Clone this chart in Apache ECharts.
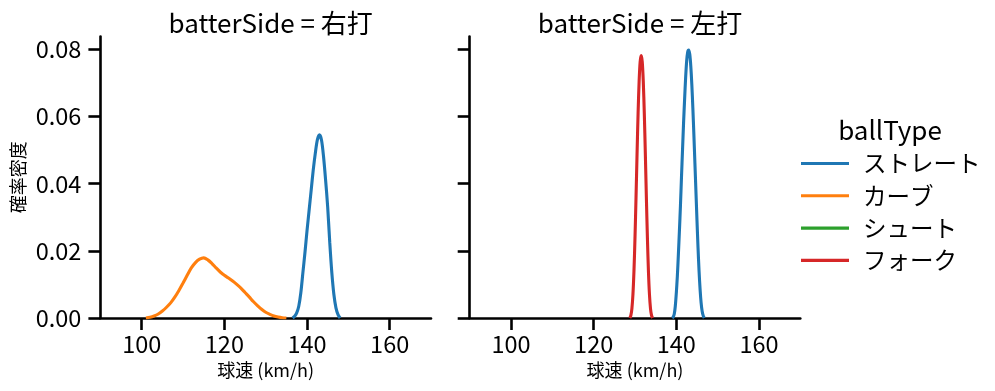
<!DOCTYPE html>
<html>
<head>
<meta charset="utf-8">
<script src="https://cdn.jsdelivr.net/npm/echarts@6/dist/echarts.min.js"></script>
<style>
html,body{margin:0;padding:0;background:#fff;}
#chart{width:995px;height:391px;}
</style>
</head>
<body>
<div id="chart"></div>
<script>
// ---- Data ----
var panelTitles = ['batterSide = 右打', 'batterSide = 左打'];
var ballTypes = ['ストレート', 'カーブ', 'シュート', 'フォーク'];
var xTicks = [100, 120, 140, 160];
var yTicks = [0, 0.02, 0.04, 0.06, 0.08];

// 右打: ストレート
var rStraightX = [136.5,137,137.5,138,138.5,139,139.5,140,140.5,141,141.5,142,142.5,143,143.5,144,144.5,145,145.5,146,146.5,147,147.5,148];
var rStraightY = [0,0.0005,0.0015,0.0035,0.0075,0.0135,0.0195,0.026,0.032,0.038,0.044,0.049,0.053,0.0545,0.053,0.048,0.041,0.033,0.0225,0.0135,0.007,0.003,0.001,0];
// 右打: カーブ
var rCurveX = [101,102,103,104,105,106,107,108,109,110,111,112,113,114,115,116,117,118,119,120,121,122,123,124,125,126,127,128,129,130,131,132,133,134,135];
var rCurveY = [0,0.0002,0.0006,0.0012,0.0021,0.0032,0.0045,0.0062,0.0082,0.0104,0.0127,0.0149,0.0165,0.0175,0.0179,0.0173,0.0162,0.0149,0.0137,0.0127,0.0119,0.0110,0.0100,0.0089,0.0076,0.0063,0.0049,0.0037,0.0026,0.0017,0.0011,0.0006,0.0003,0.0001,0];
// 左打: ストレート
var lStraightX = [139,139.25,139.5,139.75,140,140.25,140.5,140.75,141,141.25,141.5,141.75,142,142.25,142.5,142.75,143,143.25,143.5,143.75,144,144.25,144.5,144.75,145,145.25,145.5,145.75,146,146.25,146.5,146.75];
var lStraightY = [0,0.0003,0.0012,0.0035,0.0075,0.0125,0.019,0.026,0.0335,0.042,0.05,0.058,0.065,0.0715,0.0765,0.0792,0.0798,0.0785,0.075,0.0695,0.0625,0.0545,0.046,0.0375,0.029,0.021,0.014,0.0085,0.0045,0.002,0.0007,0];
// 左打: フォーク
var lForkX = [128.75,129,129.25,129.5,129.75,130,130.25,130.5,130.75,131,131.25,131.5,131.75,132,132.25,132.5,132.75,133,133.25,133.5,133.75,134,134.25];
var lForkY = [0,0.0008,0.0028,0.007,0.014,0.024,0.036,0.049,0.061,0.0705,0.0763,0.0781,0.0763,0.0705,0.061,0.049,0.036,0.024,0.014,0.007,0.0028,0.0008,0];

// ---- Build chart ----
var FONT = '"Noto Sans CJK JP", "Noto Sans", sans-serif';
var colors = {'ストレート':'#1f77b4','カーブ':'#ff7f0e','シュート':'#2ca02c','フォーク':'#d62728'};
function zip(xs, ys){ return xs.map(function(x,i){ return [x, ys[i]]; }); }

var grids = [
  {left: 100.4, top: 36.5, width: 330.6, height: 281.5},
  {left: 469.7, top: 36.5, width: 330.6, height: 281.5}
];
var lineW = 2.6;
function xAxis(i){
  return {
    type:'value', gridIndex:i, min:90, max:170,
    name:'球速 (km/h)', nameLocation:'middle', nameGap:43,
    nameTextStyle:{fontFamily:FONT, fontSize:18, color:'#000'},
    axisLine:{show:true, lineStyle:{color:'#000', width:lineW}},
    axisTick:{show:true, length:12, lineStyle:{color:'#000', width:lineW}, customValues:xTicks},
    axisLabel:{show:true, fontFamily:FONT, fontSize:23.5, color:'#000', margin:14, customValues:xTicks},
    splitLine:{show:false}
  };
}
function yAxis(i){
  return {
    type:'value', gridIndex:i, min:0, max:0.0838,
    name: i===0 ? '確率密度' : '', nameLocation:'middle', nameGap:73,
    nameTextStyle:{fontFamily:FONT, fontSize:18, color:'#000'},
    axisLine:{show:true, lineStyle:{color:'#000', width:lineW}},
    axisTick:{show:true, length:12, lineStyle:{color:'#000', width:lineW}, customValues:yTicks},
    axisLabel:{show:i===0, fontFamily:FONT, fontSize:23.5, color:'#000', margin:19, customValues:yTicks,
      formatter:function(v){ return v.toFixed(2); }},
    splitLine:{show:false}
  };
}
function lineSeries(name, gi, data){
  return {
    type:'line', name:name, xAxisIndex:gi, yAxisIndex:gi, data:data,
    showSymbol:false, smooth:0.3, color:colors[name],
    lineStyle:{width:3.1, color:colors[name]}, animation:false
  };
}

var series = [
  lineSeries('ストレート', 0, zip(rStraightX, rStraightY)),
  lineSeries('カーブ', 0, zip(rCurveX, rCurveY)),
  lineSeries('シュート', 0, []),
  lineSeries('フォーク', 1, zip(lForkX, lForkY)),
  lineSeries('ストレート', 1, zip(lStraightX, lStraightY))
];

var titleStyle = {fontFamily:FONT, fontSize:26, fontWeight:'normal', color:'#000'};
var option = {
  animation:false,
  backgroundColor:'#fff',
  title:[
    {text:panelTitles[0], left:265.7, top:5, textAlign:'center', textStyle:titleStyle},
    {text:panelTitles[1], left:635, top:5, textAlign:'center', textStyle:titleStyle},
    {text:'ballType', left:885, top:112, textAlign:'center', textStyle:titleStyle}
  ],
  legend:{
    orient:'vertical', left:796, top:146.5,
    data:ballTypes, icon:'rect', itemWidth:48, itemHeight:3.1, itemGap:8.3,
    textStyle:{fontFamily:FONT, fontSize:23.5, color:'#000', lineHeight:24, padding:[0,0,0,9]},
    selectedMode:false
  },
  grid:grids,
  xAxis:[xAxis(0), xAxis(1)],
  yAxis:[yAxis(0), yAxis(1)],
  series:series
};
var chart = echarts.init(document.getElementById('chart'), null, {renderer:'canvas'});
chart.setOption(option);
</script>
</body>
</html>
